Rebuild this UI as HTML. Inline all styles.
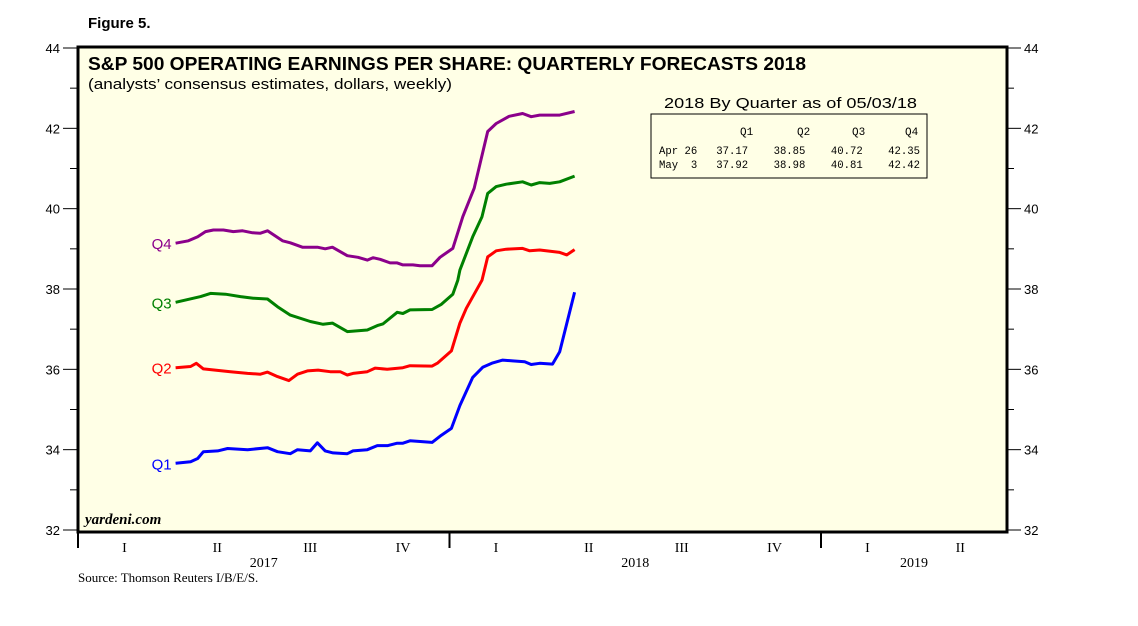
<!DOCTYPE html>
<html><head><meta charset="utf-8"><style>
body{margin:0;background:#fff;}
svg text{font-family:"Liberation Sans",sans-serif;}
svg text.mono{font-family:"Liberation Mono",monospace;}
svg text.serif{font-family:"Liberation Serif",serif;}
</style></head><body>
<svg id="chart" width="1138" height="621" viewBox="0 0 1138 621" xmlns="http://www.w3.org/2000/svg">
<text x="88" y="28" font-size="15" font-weight="bold">Figure 5.</text>
<rect x="78" y="47" width="929" height="485" fill="#ffffe6" stroke="#000" stroke-width="3"/>
<text x="88" y="70" font-size="18" font-weight="bold" textLength="718" lengthAdjust="spacingAndGlyphs">S&amp;P 500 OPERATING EARNINGS PER SHARE: QUARTERLY FORECASTS 2018</text>
<text x="88" y="89" font-size="15" textLength="364" lengthAdjust="spacingAndGlyphs">(analysts’ consensus estimates, dollars, weekly)</text>
<text class="serif" x="85" y="524" font-size="15" font-style="italic" font-weight="bold">yardeni.com</text>
<g>
<text x="664" y="108" font-size="15" textLength="253" lengthAdjust="spacingAndGlyphs">2018 By Quarter as of 05/03/18</text>
<rect x="651" y="114" width="276" height="64" fill="none" stroke="#000" stroke-width="1"/>
<text class="mono" font-size="11" x="740" y="135">Q1</text>
<text class="mono" font-size="11" x="797" y="135">Q2</text>
<text class="mono" font-size="11" x="852" y="135">Q3</text>
<text class="mono" font-size="11" x="905" y="135">Q4</text>
<text class="mono" font-size="11" x="659" y="154" xml:space="preserve" textLength="261" lengthAdjust="spacingAndGlyphs">Apr 26   37.17    38.85    40.72    42.35</text>
<text class="mono" font-size="11" x="659" y="168" xml:space="preserve" textLength="261" lengthAdjust="spacingAndGlyphs">May  3   37.92    38.98    40.81    42.42</text>
</g>
<g id="axes"></g>
<g id="series"></g>
<text class="serif" x="78" y="582" font-size="13">Source: Thomson Reuters I/B/E/S.</text>
</svg>
<script>
const yTicks=[32,34,36,38,40,42,44];
const quarterLabels=["I","II","III","IV","I","II","III","IV","I","II"];
const yearLabels=["2017","2018","2019"];
const q1Weeks=[13.7,15.8,16.8,17.6,19.6,21.0,23.8,26.6,28.0,29.8,30.8,32.6,33.6,34.7,35.8,37.8,38.6,40.6,42.0,43.5,44.8,45.6,46.6,49.7,51.0,52.4,53.6,55.4,56.8,58.2,59.6,61.0,62.7,63.6,64.8,66.6,67.6,69.7];
const q1Vals=[33.66,33.7,33.78,33.95,33.97,34.03,34.0,34.05,33.95,33.9,34.0,33.97,34.17,33.97,33.92,33.9,33.97,34.0,34.1,34.1,34.16,34.16,34.22,34.18,34.36,34.53,35.1,35.8,36.05,36.16,36.23,36.21,36.19,36.12,36.15,36.13,36.44,37.92];
const q2Weeks=[13.7,15.8,16.6,17.6,21.4,23.8,25.6,26.6,28.0,29.6,30.8,32.2,33.7,35.4,36.8,37.8,38.6,40.6,41.7,43.4,45.6,46.6,49.7,50.5,52.4,53.6,54.5,56.7,57.5,58.7,60.1,62.4,63.4,64.8,67.6,68.6,69.7];
const q2Vals=[36.04,36.07,36.15,36.01,35.94,35.9,35.88,35.93,35.82,35.72,35.88,35.96,35.98,35.94,35.94,35.86,35.9,35.94,36.03,36.0,36.04,36.09,36.08,36.16,36.46,37.15,37.52,38.22,38.8,38.95,38.99,39.01,38.95,38.97,38.91,38.85,38.98];
const q3Weeks=[13.7,17.2,18.6,20.7,22.8,24.6,26.6,28.0,29.8,32.6,34.4,35.7,37.8,40.6,42.0,42.8,44.8,45.6,46.6,49.7,51.0,52.6,53.3,53.6,55.4,56.7,57.5,58.7,60.1,62.4,63.6,64.8,66.2,67.6,69.7];
const q3Vals=[37.67,37.81,37.89,37.87,37.81,37.77,37.75,37.56,37.35,37.19,37.12,37.15,36.94,36.98,37.09,37.13,37.42,37.39,37.48,37.49,37.62,37.87,38.22,38.47,39.3,39.8,40.38,40.55,40.61,40.67,40.59,40.65,40.63,40.67,40.81];
const q4Weeks=[13.7,15.5,16.8,17.9,19.0,20.4,21.8,23.1,24.5,25.6,26.6,28.7,29.8,31.5,33.6,34.7,35.7,37.8,39.3,40.6,41.4,42.4,43.8,44.8,45.6,47.0,48.0,49.7,50.8,52.6,54.0,55.6,57.5,58.7,60.5,62.4,63.6,64.8,67.6,69.7];
const q4Vals=[39.14,39.2,39.3,39.43,39.47,39.47,39.43,39.45,39.4,39.39,39.45,39.2,39.15,39.04,39.04,39.0,39.04,38.83,38.79,38.72,38.78,38.74,38.65,38.65,38.6,38.6,38.58,38.58,38.79,39.01,39.8,40.51,41.92,42.12,42.3,42.37,42.29,42.33,42.33,42.42];
const seriesNames=["Q1","Q2","Q3","Q4"];
const seriesColors=["#0000ff","#ff0000","#008000","#8b008b"];
const NS="http://www.w3.org/2000/svg";
const X0=78,X1=1007,YEARPX=371.5;
function xScale(w){return X0+w*YEARPX/52.14;}
function yScale(v){return 530-(v-32)*(482/12);}
function mk(tag,attrs,parent){const e=document.createElementNS(NS,tag);for(const k in attrs)e.setAttribute(k,attrs[k]);parent.appendChild(e);return e;}
const ax=document.getElementById('axes');
for(let v=32;v<=44;v++){
  const y=yScale(v);const major=(v%2===0);
  const l=mk('line',{x1:major?63:70,x2:78,y1:y,y2:y,stroke:'#000','stroke-width':1},ax);
  
  
  const r=mk('line',{x1:1007,x2:major?1021:1014,y1:y,y2:y,stroke:'#000','stroke-width':1},ax);
  
  
}
yTicks.forEach(v=>{
  const y=yScale(v);
  const a=mk('text',{x:60,y:y+5,'font-size':13,'text-anchor':'end'},ax);a.textContent=v;
  
  
  const b=mk('text',{x:1024,y:y+5,'font-size':13},ax);b.textContent=v;
  
  
});
for(let yi=0;yi<3;yi++){
  const x=X0+yi*YEARPX;
  const t=mk('line',{x1:x,x2:x,y1:532,y2:548,stroke:'#000','stroke-width':2},ax);
  
  
  const xe=Math.min(X0+(yi+1)*YEARPX,X1);
  const yl=mk('text',{x:(x+xe)/2,y:567,'font-size':14,'text-anchor':'middle','class':'serif'},ax);
  yl.textContent=yearLabels[yi];
  
  
}
quarterLabels.forEach((q,i)=>{
  const x=X0+(i+0.5)*YEARPX/4;
  const t=mk('text',{x:x,y:552,'font-size':14,'text-anchor':'middle','class':'serif'},ax);
  t.textContent=q;
  
  
});
const sg=document.getElementById('series');
const weeksArr=[q1Weeks,q2Weeks,q3Weeks,q4Weeks];
const valsArr=[q1Vals,q2Vals,q3Vals,q4Vals];
seriesNames.forEach((n,i)=>{
  const pts=weeksArr[i].map((w,j)=>xScale(w).toFixed(1)+','+yScale(valsArr[i][j]).toFixed(1)).join(' ');
  const p=mk('polyline',{points:pts,fill:'none',stroke:seriesColors[i],'stroke-width':3,'stroke-linejoin':'round'},sg);
  
  
  const t=mk('text',{x:xScale(weeksArr[i][0])-4,y:yScale(valsArr[i][0])+6,'font-size':15,'text-anchor':'end',fill:seriesColors[i]},sg);
  t.textContent=n;
  
  
});
</script>
</body></html>
